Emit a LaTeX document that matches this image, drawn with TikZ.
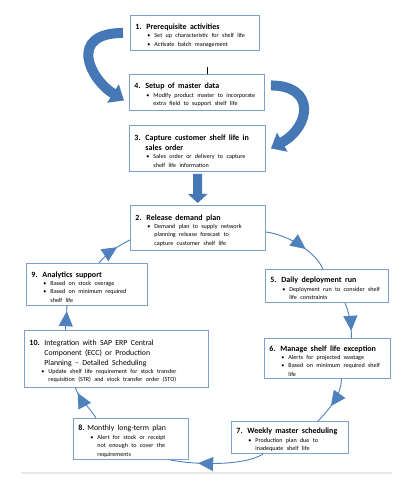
\documentclass[tikz,border=0pt]{standalone}
\usepackage{fontspec}
\setmainfont{Carlito}
\usetikzlibrary{arrows.meta,decorations.markings,positioning}
\definecolor{boxblue}{RGB}{125,160,205}
\definecolor{flowblue}{RGB}{79,129,189}
\definecolor{bandblue}{RGB}{70,120,182}
\definecolor{sepgray}{RGB}{232,232,232}

\newcommand{\headfont}{\fontsize{8}{10.5}\selectfont\bfseries}
\newcommand{\itemfont}{\fontsize{6.1}{8.4}\selectfont}
\newcommand{\stephead}[2]{\par\noindent{\headfont\hangindent=11pt\hangafter=1\makebox[11pt][l]{#1}#2\par}}
\newcommand{\bighead}[3]{\par\noindent{\fontsize{7.8}{10}\selectfont\hangindent=#1\hangafter=1\makebox[#1][l]{\headfont #2}#3\par}}
\newcommand{\stepitem}[1]{\par{\itemfont\leftskip=19pt\noindent\llap{\textbullet\hspace{4pt}}#1\par}}

\begin{document}
\begin{tikzpicture}[
    x=1pt, y=-1pt,
    stepbox/.style={rectangle, draw=boxblue, line width=0.9pt, fill=white, anchor=north west, inner xsep=5pt, inner ysep=2pt, align=left},
    cycleflow/.style={draw=flowblue, line width=0.9pt, postaction={decorate},
        decoration={markings, mark=at position #1 with {\arrow[color=flowblue]{Triangle[length=15pt,width=14pt]}}}},
    bandarrow/.style={draw=bandblue, line width=10pt, -{Triangle[length=13pt,width=21pt]}}
]
\useasboundingbox (0,0) rectangle (415,494);

% Setup steps
\node[stepbox, text width=119pt, minimum height=35pt] (prereq) at (130,15) {%
  \stephead{1.}{Prerequisite activities}
  \stepitem{Set up characteristic for shelf life}
  \stepitem{Activate batch management}};
\node[stepbox, text width=125pt, minimum height=36pt] (masterdata) at (129,74) {%
  \stephead{4.}{Setup of master data}
  \stepitem{Modify product master to incorporate\newline extra field to support shelf life}};
\node[stepbox, text width=126pt, minimum height=46pt] (capture) at (129,125) {%
  \stephead{3.}{Capture customer shelf life in\newline sales order}
  \stepitem{Sales order or delivery to capture\newline shelf life information}};

% Planning cycle
\node[stepbox, text width=125pt, minimum height=45pt] (release) at (130,205) {%
  \stephead{2.}{Release demand plan}
  \stepitem{Demand plan to supply network\newline planning release forecast to\newline capture customer shelf life}};
\node[stepbox, text width=113pt, minimum height=33pt] (deploy) at (265,269) {%
  \stephead{5.}{Daily deployment run}
  \stepitem{Deployment run to consider shelf\newline life constraints}};
\node[stepbox, text width=116pt, minimum height=40pt] (exception) at (264,338) {%
  \stephead{6.}{Manage shelf life exception}
  \stepitem{Alerts for projected wastage}
  \stepitem{Based on minimum required shelf\newline life}};
\node[stepbox, text width=107pt, minimum height=32pt] (weekly) at (231,421) {%
  \stephead{7.}{Weekly master scheduling}
  \stepitem{Production plan due to\newline inadequate shelf life}};
\node[stepbox, text width=105pt, minimum height=41pt] (monthly) at (73,418) {%
  \bighead{9pt}{8.}{Monthly long-term plan}
  \stepitem{Alert for stock or receipt\newline not enough to cover the\newline requirements}};
\node[stepbox, text width=174pt, minimum height=57pt] (integration) at (24,330) {%
  \bighead{15pt}{10.}{Integration with SAP ERP Central\newline Component (ECC) or Production\newline Planning -- Detailed Scheduling}
  \stepitem{Update shelf life requirement for stock transfer\newline requisition (STR) and stock transfer order (STO)}};
\node[stepbox, text width=111pt, minimum height=42pt] (analytics) at (26,263) {%
  \stephead{9.}{Analytics support}
  \stepitem{Based on stock overage}
  \stepitem{Based on minimum\enspace required\newline shelf life}};

% Block arrows
\draw[bandarrow] ([xshift=-7pt]prereq.west) .. controls +(-55,0) and +(-35,-22) .. ([xshift=-5pt,yshift=-8pt]masterdata.west);
\draw[bandarrow] ([xshift=6pt,yshift=7pt]masterdata.east) .. controls +(45,0) and +(40,-22) .. ([xshift=5pt]capture.east);
\draw[bandarrow, line width=9pt, -{Triangle[length=9pt,width=19pt]}, shorten <=2pt, shorten >=2pt] (capture) -- (release);
\coordinate (tick) at ([xshift=10pt]masterdata.north);
\draw[line width=0.6pt] (tick) -- ++(0,-7);

% Cycle connectors
\draw[cycleflow=0.62] ([yshift=-4pt]release.east) .. controls +(22,3) and +(-8,-18) .. ([xshift=-4pt]deploy.north);
\draw[cycleflow=0.8] ([xshift=18pt]deploy.south) .. controls +(5,12) and +(0,-12) .. ([xshift=24pt]exception.north);
\draw[cycleflow=0.6] ([xshift=14pt]exception.south) .. controls +(0,15) and +(12,-12) .. ([xshift=28pt]weekly.north);
\draw[cycleflow=0.7] ([xshift=-27pt]weekly.south) .. controls +(-20,12) and +(25,5) .. ([xshift=39pt]monthly.south);
\draw[cycleflow=0.85] ([xshift=-35pt]monthly.north) .. controls +(-6,-10) and +(3,10) .. ([xshift=-41pt]integration.south);
\draw[cycleflow=0.78] ([xshift=-51pt]integration.north) .. controls +(0,-8) and +(0,8) .. ([xshift=-20pt]analytics.south);
\draw[cycleflow=0.62] ([xshift=12pt]analytics.north) .. controls +(8,-10) and +(-12,6) .. ([yshift=-12pt]release.west);

% Separator
\draw[sepgray, line width=1.5pt] (21,473) -- (392,473);
\end{tikzpicture}
\end{document}
